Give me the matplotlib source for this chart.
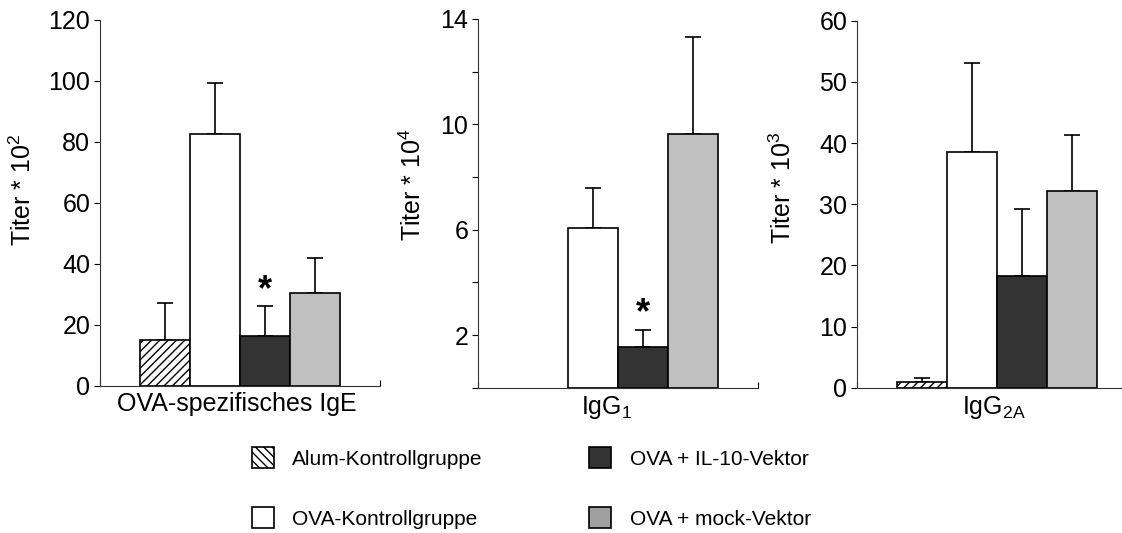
import numpy as np
import matplotlib
matplotlib.use('Agg')
import matplotlib.pyplot as plt
from matplotlib.patches import Patch

plt.rcParams['font.family'] = ['Liberation Sans', 'DejaVu Sans']
plt.rcParams['mathtext.fontset'] = 'custom'
plt.rcParams['mathtext.rm'] = 'Liberation Sans'
plt.rcParams['mathtext.it'] = 'Liberation Sans'
plt.rcParams['hatch.color'] = '#555555'
plt.rcParams['hatch.linewidth'] = 1.0

# --- data ---
groups = ['Alum-Kontrollgruppe', 'OVA-Kontrollgruppe',
          'OVA + IL-10-Vektor', 'OVA + mock-Vektor']

ige_mean = [15.0, 82.5, 16.5, 30.5]
ige_err = [12.3, 17.0, 9.7, 11.5]

igg1_mean = [0.0, 6.05, 1.56, 9.65]
igg1_err = [0.0, 1.54, 0.63, 3.65]

igg2a_mean = [1.0, 38.5, 18.3, 32.2]
igg2a_err = [0.6, 14.6, 10.9, 9.1]

# --- styles ---
faces = ['white', 'white', '#333333', '#c0c0c0']
hatches = ['////', None, None, None]
tick_fs = 18
label_fs = 18
xlab_fs = 18
leg_fs = 15

fig = plt.figure(figsize=(11.22, 5.33), dpi=100)

# panel geometry in figure fractions
panels = [
    dict(rect=[0.0891, 0.2758, 0.2496, 0.6867], mean=ige_mean, err=ige_err,
         ylim=120, yticks=list(range(0, 121, 20)),
         ylabels=[str(v) for v in range(0, 121, 20)],
         ylabel='Titer * 10$^{2}$', xlabel='OVA-spezifisches IgE',
         star=True, lab=(-0.229, 0.535), xlab_x=0.49),
    dict(rect=[0.4260, 0.2726, 0.2496, 0.6918], mean=igg1_mean, err=igg1_err,
         ylim=14, yticks=list(range(0, 15, 2)),
         ylabels=['', '2', '', '6', '', '10', '', '14'],
         ylabel='Titer * 10$^{4}$', xlabel='IgG$_{1}$',
         star=True, lab=(-0.186, 0.552), xlab_x=0.46),
    dict(rect=[0.7638, 0.2726, 0.2496, 0.6886], mean=igg2a_mean, err=igg2a_err,
         ylim=60, yticks=list(range(0, 61, 10)),
         ylabels=[str(v) for v in range(0, 61, 10)],
         ylabel='Titer * 10$^{3}$', xlabel='IgG$_{2A}$',
         star=False, lab=(-0.218, 0.544), xlab_x=0.49),
]

x = np.arange(len(groups))
for p in panels:
    ax = fig.add_axes(p['rect'])
    for i in range(len(groups)):
        if p['mean'][i] <= 0:
            continue
        ax.bar(x[i], p['mean'][i], width=1.0, color=faces[i],
               edgecolor='black', linewidth=1.2, hatch=hatches[i], zorder=2)
        ax.errorbar(x[i], p['mean'][i], yerr=[[0], [p['err'][i]]],
                    fmt='none', ecolor='black', elinewidth=1.2,
                    capsize=5.5, capthick=1.2, zorder=1)
    if p['star']:
        top = p['mean'][2] + p['err'][2]
        ax.text(x[2], top + p['ylim'] * 0.043, '*', ha='center', va='center',
                fontsize=26, fontweight='bold')
    ax.set_xlim(-1.3, 4.3)
    ax.set_ylim(0, p['ylim'])
    ax.set_yticks(p['yticks'])
    ax.set_yticklabels(p['ylabels'], fontsize=tick_fs)
    ax.set_xticks([-1.3, 4.3])
    ax.set_xticklabels([])
    ax.tick_params(axis='x', direction='in', length=4, width=0.8)
    ax.tick_params(axis='y', direction='out', length=4, width=0.8, pad=3)
    ax.spines['top'].set_visible(False)
    ax.spines['right'].set_visible(False)
    for s in ['left', 'bottom']:
        ax.spines[s].set_linewidth(0.8)
        ax.spines[s].set_color('#333333')
    ax.set_ylabel(p['ylabel'], fontsize=label_fs)
    ax.yaxis.set_label_coords(*p['lab'])
    ax.set_xlabel(p['xlabel'], fontsize=xlab_fs, labelpad=1)
    ax.xaxis.label.set_x(p['xlab_x'])

# legend
handles = [
    Patch(facecolor='white', edgecolor='black', hatch='\\\\\\\\', linewidth=1.2),
    Patch(facecolor='white', edgecolor='black', linewidth=1.2),
    Patch(facecolor='#333333', edgecolor='black', linewidth=1.2),
    Patch(facecolor='#a0a0a0', edgecolor='black', linewidth=1.2),
]
fig.legend(handles, groups, ncol=2, frameon=False, fontsize=leg_fs,
           loc='upper left', bbox_to_anchor=(0.215, 0.18),
           handlelength=1.05, handleheight=1.15, handletextpad=0.9,
           columnspacing=5.1, labelspacing=1.85, borderpad=0)

fig.savefig('out.png', dpi=100)
